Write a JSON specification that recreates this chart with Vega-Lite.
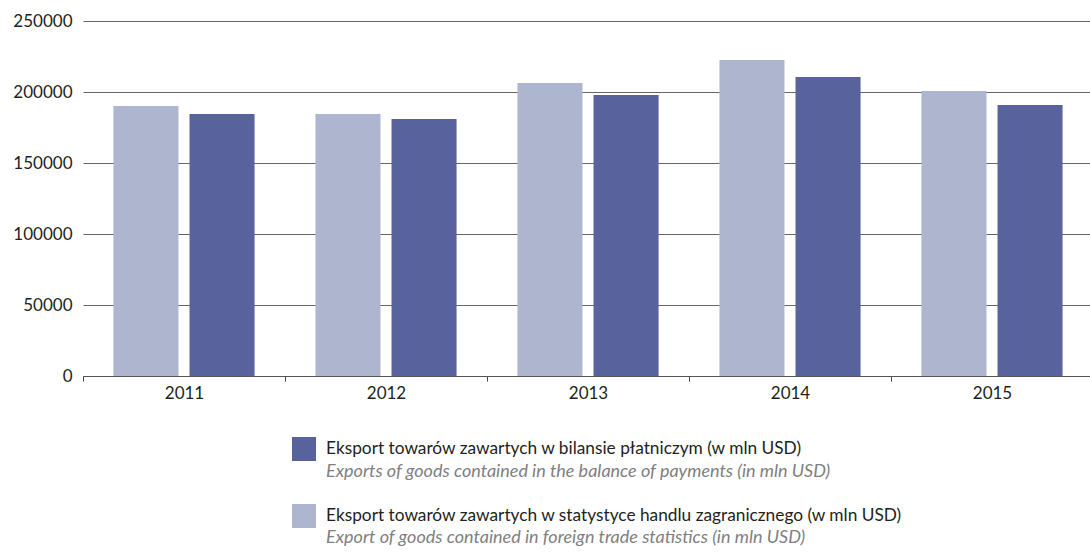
{
  "$schema": "https://vega.github.io/schema/vega-lite/v6.json",
  "autosize": {"type": "none"},
  "padding": {"left": 83, "top": 21, "right": -3, "bottom": 178},
  "width": 1010,
  "height": 355,
  "background": "white",
  "config": {"view": {"stroke": null}, "font": "Lato"},
  "data": {"values": [
    {"year": "2011", "pl": "Eksport towarów zawartych w statystyce handlu zagranicznego (w mln USD)", "en": "Export of goods contained in foreign trade statistics (in mln USD)", "value": 190100},
    {"year": "2011", "pl": "Eksport towarów zawartych w bilansie płatniczym (w mln USD)", "en": "Exports of goods contained in the balance of payments (in mln USD)", "value": 184500},
    {"year": "2012", "pl": "Eksport towarów zawartych w statystyce handlu zagranicznego (w mln USD)", "en": "Export of goods contained in foreign trade statistics (in mln USD)", "value": 184500},
    {"year": "2012", "pl": "Eksport towarów zawartych w bilansie płatniczym (w mln USD)", "en": "Exports of goods contained in the balance of payments (in mln USD)", "value": 181000},
    {"year": "2013", "pl": "Eksport towarów zawartych w statystyce handlu zagranicznego (w mln USD)", "en": "Export of goods contained in foreign trade statistics (in mln USD)", "value": 206300},
    {"year": "2013", "pl": "Eksport towarów zawartych w bilansie płatniczym (w mln USD)", "en": "Exports of goods contained in the balance of payments (in mln USD)", "value": 197900},
    {"year": "2014", "pl": "Eksport towarów zawartych w statystyce handlu zagranicznego (w mln USD)", "en": "Export of goods contained in foreign trade statistics (in mln USD)", "value": 222500},
    {"year": "2014", "pl": "Eksport towarów zawartych w bilansie płatniczym (w mln USD)", "en": "Exports of goods contained in the balance of payments (in mln USD)", "value": 210600},
    {"year": "2015", "pl": "Eksport towarów zawartych w statystyce handlu zagranicznego (w mln USD)", "en": "Export of goods contained in foreign trade statistics (in mln USD)", "value": 200700},
    {"year": "2015", "pl": "Eksport towarów zawartych w bilansie płatniczym (w mln USD)", "en": "Exports of goods contained in the balance of payments (in mln USD)", "value": 190800}
  ]},
  "mark": {"type": "bar"},
  "encoding": {
    "x": {
      "field": "year", "type": "nominal",
      "scale": {"paddingInner": 0, "paddingOuter": 0},
      "axis": {
        "title": null, "labelAngle": 0, "labelFont": "Lato", "labelFontSize": 17, "labelColor": "#231f20",
        "domainColor": "#555555", "domainWidth": 1.2, "tickColor": "#444444", "tickSize": 5, "tickBand": "extent",
        "labelPadding": 4, "grid": false
      }
    },
    "xOffset": {
      "field": "pl", "type": "nominal",
      "sort": ["Eksport towarów zawartych w statystyce handlu zagranicznego (w mln USD)", "Eksport towarów zawartych w bilansie płatniczym (w mln USD)"],
      "scale": {"paddingInner": 0.145, "paddingOuter": 0.4}
    },
    "y": {
      "field": "value", "type": "quantitative",
      "scale": {"domain": [0, 250000], "nice": false},
      "axis": {
        "title": null, "values": [0, 50000, 100000, 150000, 200000, 250000], "format": "d",
        "domain": false, "ticks": false, "labelPadding": 11, "labelFont": "Lato", "labelFontSize": 17,
        "labelColor": "#231f20", "gridColor": "#666666", "gridWidth": 1.2, "gridOpacity": 1
      }
    },
    "color": {
      "field": "pl", "type": "nominal",
      "scale": {
        "domain": ["Eksport towarów zawartych w bilansie płatniczym (w mln USD)", "Eksport towarów zawartych w statystyce handlu zagranicznego (w mln USD)"],
        "range": ["#58639e", "#aeb6cf"]
      },
      "legend": {
        "title": null, "orient": "none", "legendX": 209, "legendY": 416, "padding": 0,
        "symbolType": "square", "symbolSize": 576, "symbolStrokeWidth": 0, "symbolOpacity": 1,
        "labelFont": "Lato", "labelFontSize": 17.3, "labelColor": "#231f20", "labelOffset": 10,
        "labelLimit": 800, "rowPadding": 43
      }
    },
    "opacity": {
      "field": "en", "type": "nominal",
      "scale": {
        "domain": ["Exports of goods contained in the balance of payments (in mln USD)", "Export of goods contained in foreign trade statistics (in mln USD)"],
        "range": [1, 1]
      },
      "legend": {
        "title": null, "orient": "none", "legendX": 209, "legendY": 439, "padding": 0,
        "symbolType": "square", "symbolSize": 576, "symbolOpacity": 0, "symbolStrokeWidth": 0,
        "symbolFillColor": "transparent",
        "labelFont": "Lato", "labelFontSize": 18, "labelFontStyle": "italic", "labelColor": "#808080",
        "labelOffset": 10, "labelLimit": 800, "rowPadding": 42,
        "encode": {"symbols": {"update": {"opacity": {"value": 0}}}}
      }
    }
  }
}
